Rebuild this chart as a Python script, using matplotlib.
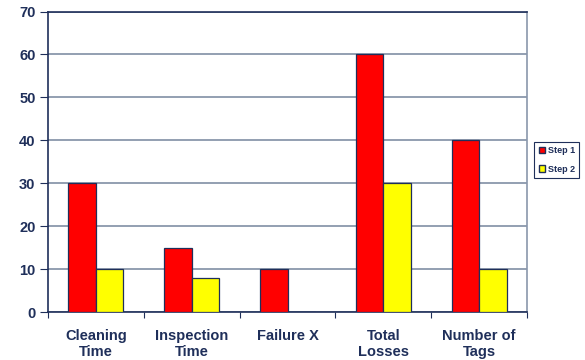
import matplotlib.pyplot as plt
import numpy as np
from matplotlib.patches import Patch

categories = ["Cleaning\nTime", "Inspection\nTime", "Failure X", "Total\nLosses", "Number of\nTags"]
step1 = [30, 15, 10, 60, 40]
step2 = [10, 8, 0, 30, 10]
yticks = [0, 10, 20, 30, 40, 50, 60, 70]

navy = "#1f2f5a"
grid_col = "#8a97ab"

plt.rcParams['font.family'] = ['Liberation Sans', 'DejaVu Sans']

fig = plt.figure(figsize=(5.85, 3.6), dpi=100)
ax = fig.add_axes([48 / 585, 1 - 312 / 360, (527 - 48) / 585, (312 - 11.5) / 360])

x = np.arange(len(categories))
w = 0.287
ax.bar(x - w / 2, step1, w, color="#ff0000", edgecolor=navy, linewidth=0.9, zorder=3, label="Step 1")
ax.bar(x + w / 2, step2, w, color="#ffff00", edgecolor=navy, linewidth=0.9, zorder=3, label="Step 2")

ax.set_xlim(-0.5, len(categories) - 0.5)
ax.set_ylim(0, 70)
ax.set_yticks(yticks)
ax.set_yticklabels([str(t) for t in yticks], fontsize=10.5, fontweight='bold', color=navy)
ax.yaxis.grid(True, color=grid_col, linewidth=1.3, zorder=0)

ax.set_xticks(np.arange(len(categories) + 1) - 0.5, minor=False)
ax.set_xticklabels([])
ax.set_xticks(x, minor=True)
ax.set_xticklabels(categories, minor=True, fontsize=10.5, fontweight='bold', color=navy, linespacing=1.2)
ax.tick_params(axis='x', which='minor', length=0, pad=12)
ax.tick_params(axis='x', which='major', length=4, color=navy, direction='out')
ax.tick_params(axis='y', length=6, color=navy, pad=3)

ax.spines['left'].set_color(navy)
ax.spines['bottom'].set_color(navy)
ax.spines['top'].set_color(navy)
ax.spines['right'].set_color(grid_col)
for s in ax.spines.values():
    s.set_linewidth(1.2)

handles = [Patch(facecolor="#ff0000", edgecolor=navy, label="Step 1"),
           Patch(facecolor="#ffff00", edgecolor=navy, label="Step 2")]
leg = fig.legend(handles=handles, loc='center left', bbox_to_anchor=(534 / 585, 1 - 160 / 360),
                 prop={'weight': 'bold', 'size': 6.5}, handlelength=0.7, handleheight=0.7,
                 handletextpad=0.3, borderpad=0.5, borderaxespad=0, labelspacing=1.0,
                 fancybox=False, framealpha=1)
leg.get_frame().set_edgecolor(navy)
leg.get_frame().set_linewidth(0.8)
for t in leg.get_texts():
    t.set_color(navy)

fig.savefig("out.png", dpi=100)
